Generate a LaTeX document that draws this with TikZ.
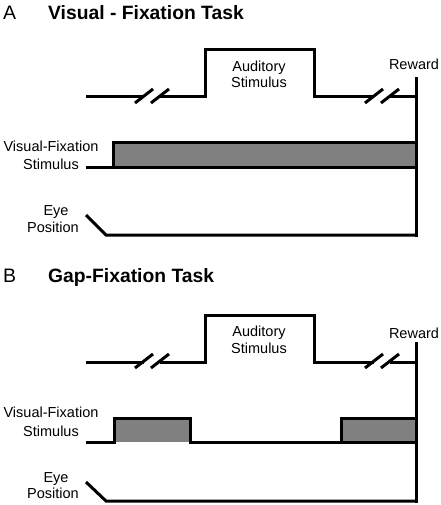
\documentclass[tikz,border=0pt]{standalone}
\usepackage{fontspec}
\setmainfont{Liberation Sans}
\definecolor{stimgray}{RGB}{128,128,128}
\begin{document}
\begin{tikzpicture}[x=1pt,y=-1pt,
  line/.style={line width=3pt,line join=miter},
  lbl/.style={inner sep=0pt,anchor=base,font=\fontsize{14.5}{17}\selectfont},
  panel/.style={inner sep=0pt,anchor=base west,font=\fontsize{19.5}{22}\selectfont},
  ttl/.style={inner sep=0pt,anchor=base west,font=\fontsize{19.3}{22}\selectfont\bfseries}]
\useasboundingbox (0,0) rectangle (440,505);
% ---------- Panel A ----------
\node[panel] (pA) at (3,20) {A};
\node[ttl] (tA) at (48,20) {Visual - Fixation Task};
% auditory line
\draw[line] (86,97) -- (144,97);
\draw[line] (135,103) -- (153,89);
\draw[line] (151,103) -- (169,89);
\draw[line] (160,97) -- (205,97) -- (205,50) -- (314,50) -- (314,97) -- (374,97);
\draw[line] (365,103) -- (383,89);
\draw[line] (381,103) -- (399,89);
\draw[line] (390,97) -- (416,97);
\node[lbl] (audA1) at (259,72) {Auditory};
\node[lbl] (audA2) at (259,88) {Stimulus};
\node[lbl] (rewA) at (414,70) {Reward};
% visual fixation
\fill[stimgray] (113,143) rectangle (416,167);
\draw[line] (86,167) -- (113,167) -- (113,143) -- (416,143);
\draw[line] (113,167) -- (416,167);
\node[lbl] (visA1) at (51,152) {Visual-Fixation};
\node[lbl] (visA2) at (51,169) {Stimulus};
% eye
\draw[line] (86,215) -- (106,235) -- (417.5,235);
\node[lbl] (eyeA1) at (56,215) {Eye};
\node[lbl] (eyeA2) at (53,232) {Position};
% reward
\draw[line] (416,77) -- (416,236.5);
% ---------- Panel B ----------
\node[panel] (pB) at (3,282) {B};
\node[ttl] (tB) at (48,282) {Gap-Fixation Task};
\draw[line] (86,362) -- (144,362);
\draw[line] (135,368) -- (153,354);
\draw[line] (151,368) -- (169,354);
\draw[line] (160,362) -- (205,362) -- (205,315) -- (314,315) -- (314,362) -- (374,362);
\draw[line] (365,368) -- (383,354);
\draw[line] (381,368) -- (399,354);
\draw[line] (390,362) -- (416,362);
\node[lbl] (audB1) at (259,336) {Auditory};
\node[lbl] (audB2) at (259,353) {Stimulus};
\node[lbl] (rewB) at (414,338) {Reward};
% visual fixation gap
\fill[stimgray] (114,418) rectangle (190,442);
\fill[stimgray] (341,418) rectangle (416,442);
\draw[line] (86,442) -- (114,442) -- (114,418) -- (190,418) -- (190,442) -- (341,442) -- (341,418) -- (416,418);
\draw[line] (190,442) -- (416,442);
\node[lbl] (visB1) at (51,417) {Visual-Fixation};
\node[lbl] (visB2) at (51,436) {Stimulus};
% eye
\draw[line] (86,482) -- (106,501) -- (417.5,501);
\node[lbl] (eyeB1) at (56,482) {Eye};
\node[lbl] (eyeB2) at (53,498) {Position};
\draw[line] (416,342) -- (416,502.5);
\end{tikzpicture}
\end{document}
